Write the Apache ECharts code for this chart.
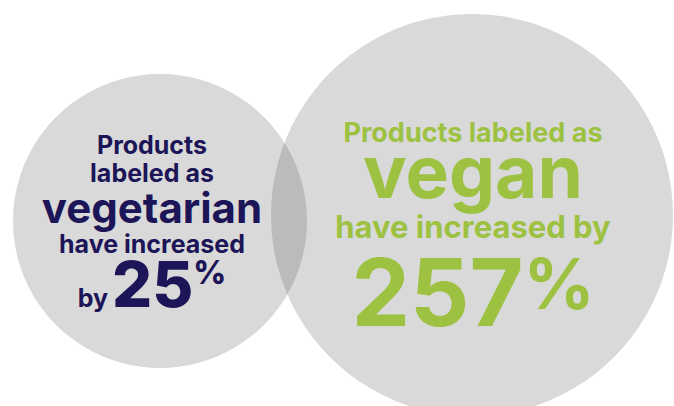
<!DOCTYPE html>
<html>
<head>
<meta charset="utf-8">
<script src="https://cdn.jsdelivr.net/npm/echarts@6/dist/echarts.min.js"></script>
<style>
html,body{margin:0;padding:0;background:#ffffff;}
#chart{width:674px;height:406px;}
</style>
</head>
<body>
<div id="chart"></div>
<script>
// ---- data ----
const groups = ['vegetarian', 'vegan'];
const increasePct = [25, 257];
const centerX = [160, 472];
const centerY = [221, 215];
const radius = [147, 201];
const vegetarianLines = ['Products', 'labeled as', 'vegetarian', 'have increased', 'by'];
const veganLines = ['Products labeled as', 'vegan', 'have increased by'];

// ---- styling ----
const FONT = 'Inter, "Noto Sans", sans-serif';
const textColors = ['#1c1557', '#9dc140'];
const measureCtx = document.createElement('canvas').getContext('2d');
function textWidth(str, size, weight) {
  measureCtx.font = weight + ' ' + size + 'px ' + FONT;
  return measureCtx.measureText(str).width;
}

// per-circle layout: [fontSize, weight, baseline offset from centre]
const layouts = [
  { dx: -8, lines: [[25, 700, -67], [25, 700, -39], [42, 700, 2], [25, 700, 32]],
    by: { size: 25, weight: 700 }, num: { size: 63, weight: 800 }, pct: { size: 32, weight: 800 }, numBase: 86, gap: 4 },
  { dx: 1, lines: [[27, 700, -73], [73, 700, -17], [31, 700, 23]],
    by: null, num: { size: 93, weight: 700 }, pct: { size: 70, weight: 700 }, numBase: 110, gap: 0 }
];

function txt(x, baseline, str, size, weight, color, align) {
  return {
    type: 'text',
    style: {
      text: str, x: x, y: baseline - 0.36 * size,
      fill: color, font: weight + ' ' + size + 'px ' + FONT,
      align: align || 'center', verticalAlign: 'middle'
    },
    z2: 10
  };
}

const chart = echarts.init(document.getElementById('chart'), null, { renderer: 'svg' });

chart.setOption({
  animation: false,
  backgroundColor: '#ffffff',
  grid: { left: 0, right: 0, top: 0, bottom: 0 },
  xAxis: { type: 'value', min: 0, max: 674, show: false },
  yAxis: { type: 'value', min: 0, max: 406, inverse: true, show: false },
  series: [{
    type: 'custom',
    coordinateSystem: 'cartesian2d',
    data: groups.map((g, i) => [centerX[i], centerY[i], radius[i], increasePct[i]]),
    renderItem: function (params, api) {
      const i = params.dataIndex;
      const c = api.coord([api.value(0), api.value(1)]);
      const r = api.size([api.value(2), 0])[0];
      const L = layouts[i];
      const color = textColors[i];
      const cx = c[0] + L.dx;
      const lines = i === 0 ? vegetarianLines.slice(0, 4) : veganLines;
      const children = [{
        type: 'circle',
        shape: { cx: c[0], cy: c[1], r: r },
        style: { fill: 'rgba(74,74,74,0.21)' },
        z2: 1
      }];
      lines.forEach((s, k) => {
        const sp = L.lines[k];
        children.push(txt(cx, c[1] + sp[2], s, sp[0], sp[1], color));
      });
      // last line: "by" + number + superscript "%"
      const numStr = String(api.value(3));
      const base = c[1] + L.numBase;
      const wBy = L.by ? textWidth(vegetarianLines[4], L.by.size, L.by.weight) + L.gap : 0;
      const wNum = textWidth(numStr, L.num.size, L.num.weight);
      const wPct = textWidth('%', L.pct.size, L.pct.weight);
      let x = cx - (wBy + wNum + wPct) / 2;
      if (L.by) {
        children.push(txt(x, base, vegetarianLines[4], L.by.size, L.by.weight, color, 'left'));
        x += wBy;
      }
      children.push(txt(x, base, numStr, L.num.size, L.num.weight, color, 'left'));
      x += wNum;
      const pctBase = base - 0.727 * (L.num.size - L.pct.size);
      children.push(txt(x, pctBase, '%', L.pct.size, L.pct.weight, color, 'left'));
      return { type: 'group', children: children };
    }
  }]
});
</script>
</body>
</html>
